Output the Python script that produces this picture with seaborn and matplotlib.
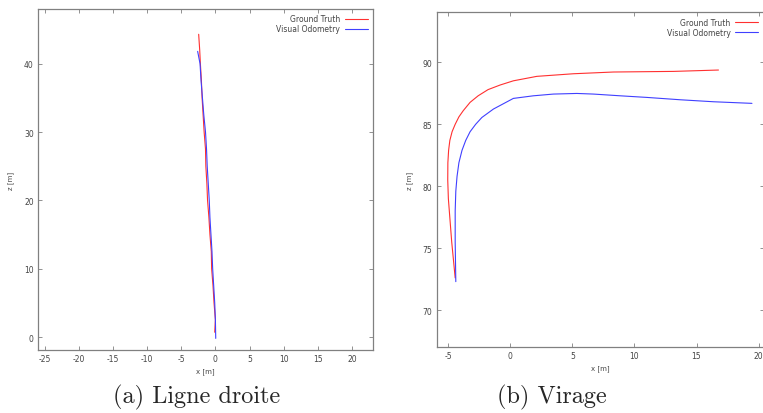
import matplotlib
matplotlib.use("Agg")
import matplotlib.pyplot as plt
import seaborn as sns

# (a) straight line
straight_gt_x = [-0.1, 0.0, -0.2, -0.35, -0.55, -0.6, -0.8, -0.95, -1.15, -1.25,
                 -1.4, -1.45, -1.65, -1.8, -1.95, -2.05, -2.2, -2.3, -2.45]
straight_gt_z = [0.7, 2.5, 5, 7.5, 10, 12.5, 15, 17.5, 20, 22.5,
                 25, 27.5, 30, 32.5, 35, 37.5, 40, 42, 44.3]
straight_vo_x = [0.05, 0.0, -0.1, -0.25, -0.4, -0.5, -0.65, -0.8, -0.9, -1.05,
                 -1.2, -1.3, -1.45, -1.7, -1.9, -2.1, -2.25, -2.6]
straight_vo_z = [-0.2, 2.5, 5, 7.5, 10, 12.5, 15, 17.5, 20, 22.5,
                 25, 27.5, 30, 32.5, 35, 37.5, 40, 41.8]

# (b) turn
turn_gt_x = [-4.45, -4.73, -5.0, -5.05, -5.04, -4.98, -4.88, -4.7, -4.45, -4.15,
             -3.8, -3.25, -2.6, -1.8, -0.83, 0.24, 2.13, 5.08, 8.3, 13.15, 16.77]
turn_gt_z = [72.6, 75.5, 79.0, 80.5, 81.9, 82.9, 83.7, 84.4, 85.0, 85.6,
             86.1, 86.77, 87.3, 87.8, 88.17, 88.51, 88.87, 89.08, 89.22, 89.27, 89.38]
turn_vo_x = [-4.4, -4.45, -4.45, -4.4, -4.3, -4.15, -3.9, -3.6, -3.25, -2.8,
             -2.3, -1.37, 0.24, 1.85, 3.47, 5.35, 6.69, 8.85, 11.0, 13.69, 16.37, 19.47]
turn_vo_z = [72.3, 75.5, 78.0, 79.6, 80.8, 81.9, 82.9, 83.7, 84.4, 85.0,
             85.55, 86.23, 87.09, 87.3, 87.44, 87.49, 87.44, 87.3, 87.17, 86.98, 86.82, 86.69]

sns.set_style("white")
plt.rcParams["axes.unicode_minus"] = False
plt.rcParams["font.family"] = ["DejaVu Sans"]

W, H = 763, 414
fig = plt.figure(figsize=(W / 100, H / 100), dpi=100)


def px_axes(left, top, right, bottom):
    return fig.add_axes([left / W, 1 - bottom / H, (right - left) / W, (bottom - top) / H])


def style(ax, xlim, ylim, xticks, yticks):
    ax.set_xlim(*xlim)
    ax.set_ylim(*ylim)
    ax.set_xticks(xticks)
    ax.set_yticks(yticks)
    for s in ax.spines.values():
        s.set_color("#808080")
        s.set_linewidth(0.9)
    ax.tick_params(direction="in", length=3, width=0.6, color="#808080",
                   labelsize=5.5, labelcolor="#444444", top=True, right=True,
                   bottom=True, left=True, pad=3)
    ax.set_xlabel("x [m]", fontsize=5, color="#444444", labelpad=3)
    ax.set_ylabel("z [m]", fontsize=5, color="#444444", labelpad=7)
    leg = ax.legend(loc="upper right", frameon=False, markerfirst=False, fontsize=5.5,
                    handlelength=3.0, handletextpad=0.6, labelspacing=0.15,
                    borderaxespad=0.3)
    for t in leg.get_texts():
        t.set_color("#444444")


ax1 = px_axes(38, 10, 373, 351)
sns.lineplot(x=straight_gt_x, y=straight_gt_z, sort=False, estimator=None, ax=ax1,
             color="#ff3030", linewidth=0.8, label="Ground Truth")
sns.lineplot(x=straight_vo_x, y=straight_vo_z, sort=False, estimator=None, ax=ax1,
             color="#4040ff", linewidth=0.8, label="Visual Odometry")
style(ax1, (-26.0, 23.1), (-1.9, 48.0), range(-25, 21, 5), range(0, 41, 10))

ax2 = px_axes(436.7, 13.3, 763.5, 348.3)
sns.lineplot(x=turn_gt_x, y=turn_gt_z, sort=False, estimator=None, ax=ax2,
             color="#ff3030", linewidth=0.8, label="Ground Truth")
sns.lineplot(x=turn_vo_x, y=turn_vo_z, sort=False, estimator=None, ax=ax2,
             color="#4040ff", linewidth=0.8, label="Visual Odometry")
style(ax2, (-5.94, 20.4), (67.0, 94.04), range(-5, 21, 5), range(70, 91, 5))

fig.text(197 / W, 1 - 397 / H, "(a) Ligne droite", ha="center", va="center",
         fontsize=17.5, family="cmr10")
fig.text(552 / W, 1 - 397 / H, "(b) Virage", ha="center", va="center",
         fontsize=17.5, family="cmr10")

fig.savefig("out.png", dpi=100)
